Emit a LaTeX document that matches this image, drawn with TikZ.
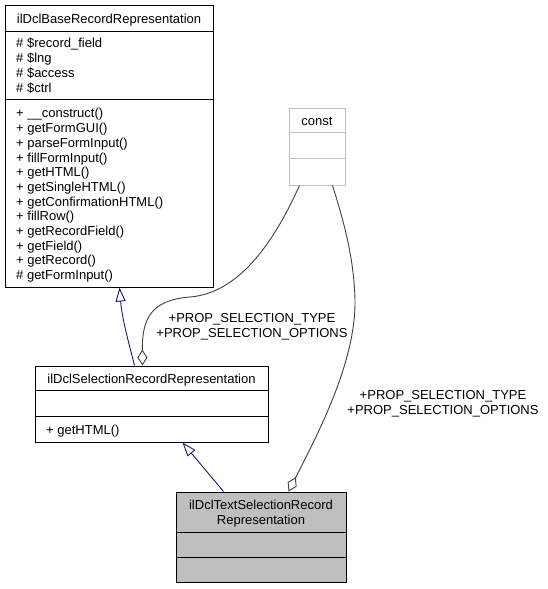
\documentclass[tikz,border=0pt]{standalone}
\usepackage{fontspec}
\setmainfont{Liberation Sans}
\usetikzlibrary{arrows.meta}
\definecolor{inhblue}{HTML}{191970}
\definecolor{agggray}{HTML}{404040}
\definecolor{boxgray}{HTML}{BFBFBF}
\begin{document}
\begin{tikzpicture}[x=1pt,y=-1pt,
  cls/.style={draw=black,fill=white,line width=1pt,inner sep=0pt},
  sep/.style={line width=1pt},
  txt/.style={inner sep=0pt,font=\fontsize{13}{14.7}\selectfont},
  lbl/.style={txt,align=center},
  inh/.style={draw=inhblue,line width=0.9pt,-{Triangle[open,length=14pt,width=10pt]}},
  agg/.style={draw=agggray,line width=0.9pt,{Diamond[open,length=16pt,width=10pt]}-}]
\useasboundingbox (0,0) rectangle (548,589);

% boxes
\node[cls,minimum width=208pt,minimum height=282pt] (base) at (109,146) {};
\draw[sep] ([yshift=-27pt]base.north west) -- ([yshift=-27pt]base.north east);
\draw[sep] ([yshift=-95pt]base.north west) -- ([yshift=-95pt]base.north east);

\node[cls,draw=boxgray,minimum width=56pt,minimum height=77pt] (const) at (317,146.5) {};
\draw[sep,draw=boxgray] ([yshift=-25pt]const.north west) -- ([yshift=-25pt]const.north east);
\draw[sep,draw=boxgray] ([yshift=-51pt]const.north west) -- ([yshift=-51pt]const.north east);

\node[cls,minimum width=233pt,minimum height=76pt] (sel) at (151.5,404) {};
\draw[sep] ([yshift=-25pt]sel.north west) -- ([yshift=-25pt]sel.north east);
\draw[sep] ([yshift=-51pt]sel.north west) -- ([yshift=-51pt]sel.north east);

\node[cls,fill=boxgray,minimum width=170pt,minimum height=90pt] (textsel) at (261,537) {};
\draw[sep] ([yshift=-41pt]textsel.north west) -- ([yshift=-41pt]textsel.north east);
\draw[sep] ([yshift=-66pt]textsel.north west) -- ([yshift=-66pt]textsel.north east);

% texts of base
\node[txt,anchor=base] (bt) at (109,23.1) {ilDclBaseRecordRepresentation};
\node[txt,anchor=base west] (a1) at (16,47.9) {\# \$record\_field};
\node[txt,anchor=base west] (a2) at (16,62.6) {\# \$lng};
\node[txt,anchor=base west] (a3) at (16,77.3) {\# \$access};
\node[txt,anchor=base west] (a4) at (16,92.0) {\# \$ctrl};
\node[txt,anchor=base west] (m1) at (16,117.9) {+ \_\_construct()};
\node[txt,anchor=base west] (m2) at (16,132.6) {+ getFormGUI()};
\node[txt,anchor=base west] (m3) at (16,147.3) {+ parseFormInput()};
\node[txt,anchor=base west] (m4) at (16,162.0) {+ fillFormInput()};
\node[txt,anchor=base west] (m5) at (16,176.7) {+ getHTML()};
\node[txt,anchor=base west] (m6) at (16,191.4) {+ getSingleHTML()};
\node[txt,anchor=base west] (m7) at (16,206.1) {+ getConfirmationHTML()};
\node[txt,anchor=base west] (m8) at (16,220.8) {+ fillRow()};
\node[txt,anchor=base west] (m9) at (16,235.5) {+ getRecordField()};
\node[txt,anchor=base west] (m10) at (16,250.2) {+ getField()};
\node[txt,anchor=base west] (m11) at (16,264.9) {+ getRecord()};
\node[txt,anchor=base west] (m12) at (16,279.6) {\# getFormInput()};

% const
\node[txt,anchor=base] (ct) at (317,125.1) {const};

% selection
\node[txt,anchor=base] (st) at (151.5,383.1) {ilDclSelectionRecordRepresentation};
\node[txt,anchor=base west] (sm1) at (46,434.1) {+ getHTML()};

% text selection
\node[lbl] (tt) at (261,513.7) {ilDclTextSelectionRecord\\Representation};

% connectors
\draw[inh] ([xshift=100pt]sel.north west) .. controls (128,340) and (122,318) .. ([xshift=115pt]base.south west);
\draw[inh] ([xshift=48pt]textsel.north west) -- ([xshift=148pt]sel.south west);
\draw[agg] ([xshift=108pt]sel.north west) .. controls (142,320) and (150,300) .. (190,297)
   .. controls (240,293) and (275,240) .. ([xshift=11pt]const.south west);
\draw[agg] ([xshift=113pt]textsel.north west) .. controls (320,430) and (356,360) .. (355,300)
   .. controls (354,260) and (345,225) .. ([xshift=44pt]const.south west);

% labels
\node[lbl] (l1) at (252,326.4) {+PROP\_SELECTION\_TYPE\\+PROP\_SELECTION\_OPTIONS};
\node[lbl] (l2) at (443,403.7) {+PROP\_SELECTION\_TYPE\\+PROP\_SELECTION\_OPTIONS};
\end{tikzpicture}
\end{document}
